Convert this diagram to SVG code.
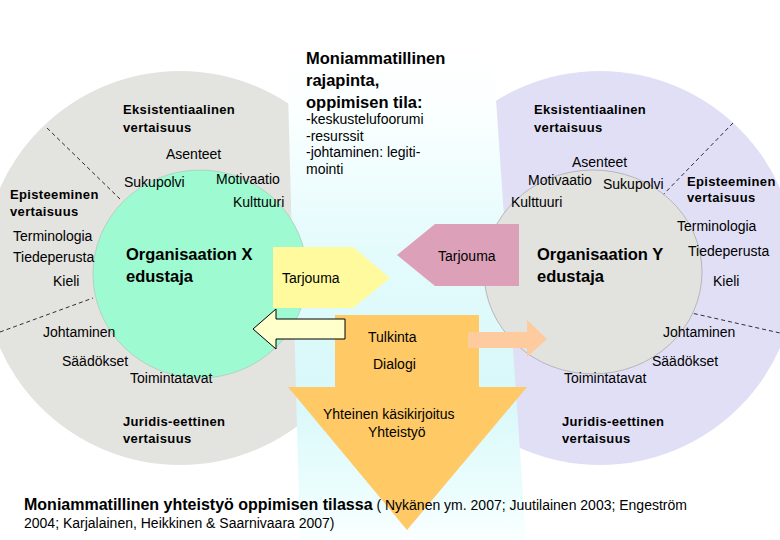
<svg xmlns="http://www.w3.org/2000/svg" width="780" height="540" viewBox="0 0 780 540">
<defs>
<linearGradient id="band" x1="0" y1="55" x2="0" y2="540" gradientUnits="userSpaceOnUse">
<stop offset="0" stop-color="#FFFFFF"/>
<stop offset="0.12" stop-color="#FAFFFF"/>
<stop offset="0.4" stop-color="#E4FBFC"/>
<stop offset="0.7" stop-color="#D8F8F9"/>
<stop offset="0.9" stop-color="#EBFDFD"/>
<stop offset="1" stop-color="#FAFFFF"/>
</linearGradient>
<style>
text{font-family:"Liberation Sans",Arial,sans-serif;fill:#000}
.r{font-size:14px}
.b{font-size:13px;font-weight:bold;letter-spacing:0.35px}
.t{font-size:16.5px;font-weight:bold}
.dash{stroke:#000;stroke-width:0.8;stroke-dasharray:4 3;fill:none}
</style>
</defs>
<rect width="780" height="540" fill="#FFFFFF"/>
<g id="outer-left"><circle cx="180" cy="268" r="197" fill="#E3E3DF"/></g>
<g id="outer-right"><circle cx="600" cy="268" r="197" fill="#E1DFF5"/></g>
<g id="band-area"><polygon points="287,55 493,55 526,540 300,540" fill="url(#band)"/></g>
<g id="lines">
<line class="dash" x1="47" y1="128" x2="120" y2="199"/>
<line class="dash" x1="0" y1="332" x2="93" y2="298"/>
<line class="dash" x1="733" y1="123" x2="658" y2="200"/>
<line class="dash" x1="687" y1="312" x2="780" y2="333"/>
</g>
<g id="org-x"><ellipse cx="200" cy="274" rx="107" ry="104" fill="#9EFAD0" stroke="#A9CDBC" stroke-width="0.8"/>
<text class="t" x="126" y="260">Organisaation X</text><text class="t" x="126" y="282">edustaja</text></g>
<g id="org-y"><ellipse cx="593" cy="272" rx="109" ry="102" fill="#E2E2DE" stroke="#ABABAB" stroke-width="0.8"/>
<text class="t" x="537" y="260">Organisaation Y</text><text class="t" x="537" y="282">edustaja</text></g>
<g id="connectors">
<polygon id="tarjouma-x" points="273,247 353,247 390,278 353,308 273,308" fill="#FFFA9E"/>
<polygon id="tarjouma-y" points="435,224 519,224 519,286 435,286 397,255" fill="#DCA0B8"/>
<polygon id="orange" points="335,315 479,315 479,387 527,387 407,530 288,387 335,387" fill="#FFC966"/>
<polygon id="back-arrow" points="253,329 276,309 276,319 345,319 345,339 276,339 276,349" fill="#FFFFCC" stroke="#000" stroke-width="1"/>
<polygon id="peach" points="468,332 527,332 527,320 547,339 527,357 527,348 468,348" fill="#FDCB9D"/>
</g>
<g id="center-labels">
<text class="t" x="306" y="64">Moniammatillinen</text>
<text class="t" x="306" y="86">rajapinta,</text>
<text class="t" x="306" y="108">oppimisen tila:</text>
<text class="r" x="306" y="124">-keskustelufoorumi</text>
<text class="r" x="306" y="141">-resurssit</text>
<text class="r" x="306" y="157">-johtaminen: legiti-</text>
<text class="r" x="306" y="174">mointi</text>
<text class="r" x="282" y="283">Tarjouma</text>
<text class="r" x="438" y="261">Tarjouma</text>
<text class="r" x="368" y="342">Tulkinta</text>
<text class="r" x="373" y="369">Dialogi</text>
<text class="r" x="323" y="419">Yhteinen käsikirjoitus</text>
<text class="r" x="368" y="437">Yhteistyö</text>
</g>
<g id="left-labels">
<text class="b" x="123" y="114">Eksistentiaalinen</text>
<text class="b" x="123" y="132">vertaisuus</text>
<text class="r" x="166" y="159">Asenteet</text>
<text class="r" x="124" y="187">Sukupolvi</text>
<text class="r" x="216" y="184">Motivaatio</text>
<text class="r" x="233" y="207">Kulttuuri</text>
<text class="b" x="10" y="199">Episteeminen</text>
<text class="b" x="10" y="216">vertaisuus</text>
<text class="r" x="13" y="241">Terminologia</text>
<text class="r" x="13" y="262">Tiedeperusta</text>
<text class="r" x="53" y="286">Kieli</text>
<text class="r" x="43" y="337">Johtaminen</text>
<text class="r" x="62" y="366">Säädökset</text>
<text class="r" x="130" y="383">Toimintatavat</text>
<text class="b" x="123" y="426">Juridis-eettinen</text>
<text class="b" x="123" y="443">vertaisuus</text>
</g>
<g id="right-labels">
<text class="b" x="534" y="114">Eksistentiaalinen</text>
<text class="b" x="534" y="132">vertaisuus</text>
<text class="r" x="572" y="167">Asenteet</text>
<text class="r" x="528" y="185">Motivaatio</text>
<text class="r" x="603" y="189">Sukupolvi</text>
<text class="r" x="511" y="207">Kulttuuri</text>
<text class="b" x="687" y="186">Episteeminen</text>
<text class="b" x="687" y="202">vertaisuus</text>
<text class="r" x="677" y="231">Terminologia</text>
<text class="r" x="688" y="256">Tiedeperusta</text>
<text class="r" x="713" y="286">Kieli</text>
<text class="r" x="663" y="337">Johtaminen</text>
<text class="r" x="652" y="366">Säädökset</text>
<text class="r" x="564" y="383">Toimintatavat</text>
<text class="b" x="562" y="426">Juridis-eettinen</text>
<text class="b" x="562" y="443">vertaisuus</text>
</g>
<g id="caption">
<text x="24" y="510"><tspan style="font-size:16px;font-weight:bold">Moniammatillinen yhteistyö oppimisen tilassa</tspan><tspan class="r"> ( Nykänen ym. 2007; Juutilainen 2003; Engeström</tspan></text>
<text class="r" x="24" y="528">2004; Karjalainen, Heikkinen &amp; Saarnivaara 2007)</text>
</g>
</svg>
